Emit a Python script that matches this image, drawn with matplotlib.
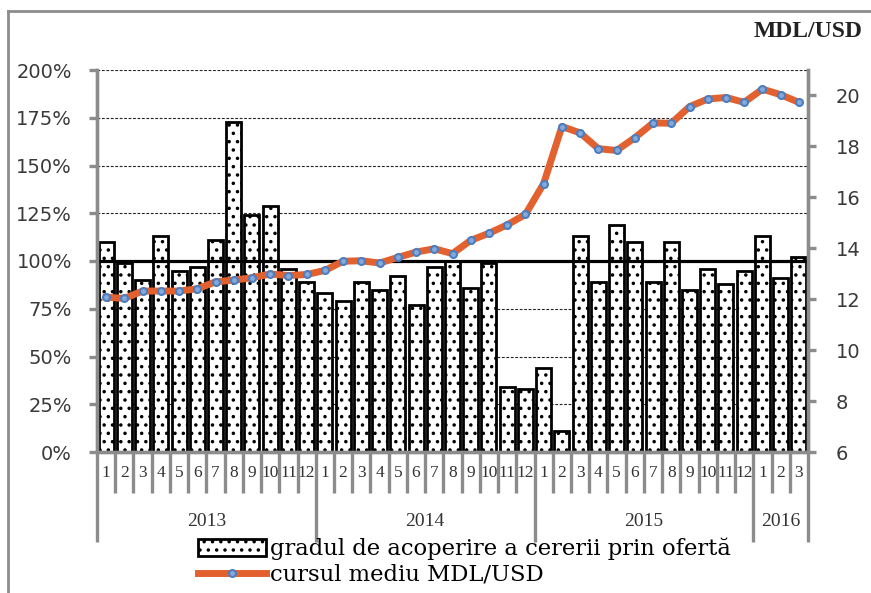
"""Coverage of FX demand by supply vs. average MDL/USD rate, 2013-2016."""

import matplotlib
matplotlib.use("Agg")
import matplotlib.pyplot as plt
from matplotlib.lines import Line2D
from matplotlib.patches import Patch
import numpy as np

YEARS = ["2013", "2014", "2015", "2016"]
MONTHS_PER_YEAR = [12, 12, 12, 3]

# gradul de acoperire a cererii prin oferta (%)
coverage = [110, 99, 90, 113, 95, 97, 111, 173, 124, 129, 96, 89,
            83, 79, 89, 85, 92, 77, 97, 100, 86, 99, 34, 33,
            44, 11, 113, 89, 119, 110, 89, 110, 85, 96, 88, 95,
            113, 91, 102]

# cursul mediu MDL/USD
rate = [12.08, 12.03, 12.32, 12.32, 12.32, 12.41, 12.68, 12.75, 12.84, 12.99, 12.93, 12.97,
        13.13, 13.49, 13.51, 13.42, 13.64, 13.85, 13.98, 13.79, 14.31, 14.59, 14.92, 15.33,
        16.54, 18.78, 18.53, 17.91, 17.84, 18.34, 18.92, 18.91, 19.56, 19.86, 19.92, 19.73,
        20.25, 20.03, 19.73]

GRAY = "#8c8c8c"
ORANGE = "#e3602f"
SANS = ["DejaVu Sans"]
SERIF = ["Liberation Serif", "DejaVu Serif"]
WIDE_SERIF = ["DejaVu Serif"]

plt.rcParams["hatch.linewidth"] = 1.3

fig = plt.figure(figsize=(8.71, 5.93), dpi=100)
ax = fig.add_axes([97 / 871, 1 - 452 / 593, 711 / 871, 382 / 593])
ax2 = ax.twinx()

x = np.arange(len(coverage))

ax.set_axisbelow(True)
for v in [25, 50, 75, 125, 150, 175, 200]:
    ax.axhline(v, color="#222222", lw=0.8, ls=(0, (2.5, 1.5)), zorder=0)

ax.bar(x, coverage, width=0.82, color="white", edgecolor="black",
       linewidth=2.0, hatch="..", zorder=2)
ax.axhline(100, color="black", lw=2.3, zorder=3)

ax.set_xlim(-0.5, len(coverage) - 0.5)
ax.set_ylim(0, 200)
ax.set_yticks(np.arange(0, 201, 25))
ax.set_yticklabels([f"{v}%" for v in range(0, 201, 25)],
                   family=SANS, fontsize=14)
ax.set_xticks([])

ax2.plot(x, rate, color=ORANGE, lw=5, marker="o", markersize=5,
         markerfacecolor="#86a9d8", markeredgecolor="#4a7ec2",
         markeredgewidth=1.5, zorder=5, solid_joinstyle="round")
ax2.set_ylim(6, 21)
ax2.set_yticks(np.arange(6, 21, 2))
ax2.set_yticklabels([str(v) for v in range(6, 21, 2)],
                    family=SANS, fontsize=14)

for a in (ax, ax2):
    a.spines["top"].set_visible(False)
    for side in ("left", "right", "bottom"):
        a.spines[side].set_color(GRAY)
        a.spines[side].set_linewidth(2.4)
    a.tick_params(axis="y", colors=GRAY, width=2.4, length=6, labelcolor="#3a3a3a")
ax.tick_params(axis="y", pad=12)
ax2.tick_params(axis="y", pad=14)

ax2.text(1.0, 1.1, "MDL/USD", transform=ax2.transAxes, ha="center", va="center",
         family=SERIF, fontsize=17, fontweight="bold", color="#222222")

# multi-level category axis: months, then years
trans = ax.get_xaxis_transform()
start = 0
for year, n in zip(YEARS, MONTHS_PER_YEAR):
    for m in range(n):
        i = start + m
        ax.text(i, -0.055, str(m + 1), transform=trans, ha="center", va="center",
                family=SERIF, fontsize=12.5, color="#333333")
        if m > 0:
            ax.plot([i - 0.5, i - 0.5], [0, -0.108], transform=trans,
                    color=GRAY, lw=2.4, clip_on=False, solid_capstyle="butt")
    ax.plot([start - 0.5, start - 0.5], [0, -0.235], transform=trans,
            color=GRAY, lw=2.4, clip_on=False, solid_capstyle="butt")
    ax.text(start + (n - 1) / 2, -0.183, year, transform=trans, ha="center",
            va="center", family=SERIF, fontsize=14, color="#333333")
    start += n
ax.plot([start - 0.5, start - 0.5], [0, -0.235], transform=trans,
        color=GRAY, lw=2.4, clip_on=False, solid_capstyle="butt")

handles = [
    Patch(facecolor="white", edgecolor="black", linewidth=2.0, hatch=".."),
    Line2D([], [], color=ORANGE, lw=5, marker="o", markersize=5,
           markerfacecolor="#86a9d8", markeredgecolor="#4a7ec2", markeredgewidth=1.5),
]
labels = ["gradul de acoperire a cererii prin ofertă", "cursul mediu MDL/USD"]
fig.legend(handles, labels, loc="upper left", bbox_to_anchor=(198 / 871, 1 - 538 / 593),
           frameon=False, prop={"family": WIDE_SERIF, "size": 16.3}, handlelength=3.0,
           handleheight=0.75, handletextpad=0.2, labelspacing=0.15, borderpad=0,
           borderaxespad=0, numpoints=1)

# figure border (top and left edges as in the source)
fig.add_artist(Line2D([8 / 871, 1], [1 - 11 / 593, 1 - 11 / 593], color=GRAY, lw=2))
fig.add_artist(Line2D([8 / 871, 8 / 871], [0, 1 - 11 / 593], color=GRAY, lw=2))

fig.savefig("out.png", dpi=100, facecolor="white")
